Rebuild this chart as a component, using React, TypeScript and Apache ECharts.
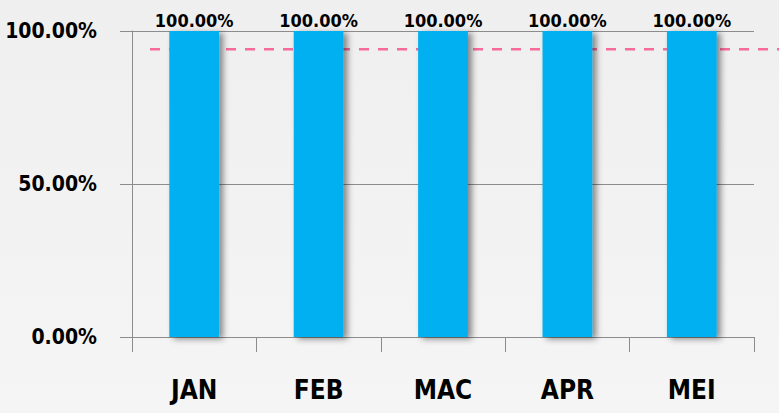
import React, { useEffect, useRef } from "react";
import * as echarts from "echarts";

const categories = ["JAN", "FEB", "MAC", "APR", "MEI"];
const achievement = [100, 100, 100, 100, 100];
const targetLine = [
  [0, 94],
  [1, 94],
];
const yTicks = { min: 0, max: 100, interval: 50 };

const FONT = '"DejaVu Sans Condensed", "Liberation Sans Narrow", sans-serif';

export default function App() {
  const ref = useRef<HTMLDivElement>(null);
  useEffect(() => {
    document.body.style.margin = "0";
    const chart = echarts.init(ref.current!, null, { renderer: "svg" });
    chart.setOption({
      animation: false,
      backgroundColor: {
        type: "linear",
        x: 0,
        y: 0,
        x2: 0,
        y2: 1,
        colorStops: [
          { offset: 0, color: "#efefef" },
          { offset: 1, color: "#f5f5f5" },
        ],
      },
      grid: [
        { left: 132, right: 25, top: 31, bottom: 76, containLabel: false, outerBoundsMode: "none" },
        { left: 150, right: 0, top: 31, bottom: 76, containLabel: false, outerBoundsMode: "none" },
      ],
      xAxis: [
        {
          type: "category",
          gridIndex: 0,
          data: categories,
          axisLine: { lineStyle: { color: "#8c8c8c", width: 1 } },
          axisTick: { show: true, length: 15, lineStyle: { color: "#8c8c8c" } },
          axisLabel: {
            margin: 40,
            color: "#000",
            fontFamily: FONT,
            fontWeight: "bold",
            fontSize: 26,
          },
        },
        { type: "value", gridIndex: 1, min: 0, max: 1, show: false },
      ],
      yAxis: [
        {
          type: "value",
          gridIndex: 0,
          min: yTicks.min,
          max: yTicks.max,
          interval: yTicks.interval,
          axisLine: { show: true, lineStyle: { color: "#8c8c8c", width: 1 } },
          axisTick: { show: true, length: 12, lineStyle: { color: "#8c8c8c" } },
          splitLine: { show: true, lineStyle: { color: "#8c8c8c", width: 1 } },
          axisLabel: {
            margin: 35,
            color: "#000",
            fontFamily: FONT,
            fontWeight: "bold",
            fontSize: 21,
            formatter: (v: number) => `${v.toFixed(2)}%`,
          },
        },
        { type: "value", gridIndex: 1, min: yTicks.min, max: yTicks.max, show: false },
      ],
      series: [
        {
          type: "bar",
          xAxisIndex: 0,
          yAxisIndex: 0,
          data: achievement,
          barWidth: "40%",
          itemStyle: {
            color: "#00b0f0",
            shadowColor: "rgba(0,0,0,0.45)",
            shadowBlur: 6,
            shadowOffsetX: 4,
            shadowOffsetY: 2,
          },
          label: {
            show: true,
            position: "top",
            distance: 2,
            color: "#000",
            fontFamily: FONT,
            fontWeight: "bold",
            fontSize: 18,
            formatter: (p: any) => `${Number(p.value).toFixed(2)}%`,
          },
          z: 3,
        },
        {
          type: "line",
          xAxisIndex: 1,
          yAxisIndex: 1,
          data: targetLine,
          symbol: "none",
          lineStyle: { color: "#f76b9c", width: 2.5, type: [10, 9] },
          z: 2,
        },
      ],
    });
    return () => chart.dispose();
  }, []);
  return <div ref={ref} style={{ width: 779, height: 413 }} />;
}
